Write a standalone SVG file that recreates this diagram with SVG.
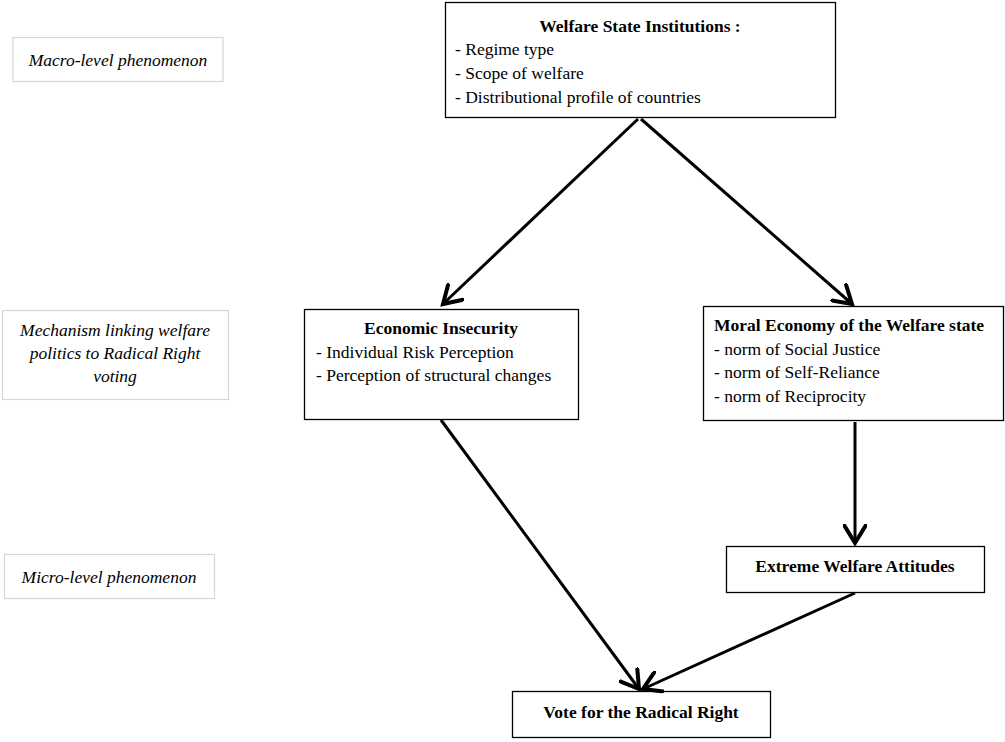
<svg xmlns="http://www.w3.org/2000/svg" width="1005" height="742" viewBox="0 0 1005 742">
<style>
.box{fill:#fff;stroke:#000;stroke-width:1.3}
.lab{fill:#fff;stroke:#d6d6d6;stroke-width:1.2}
.t{font-family:"Liberation Serif","Times New Roman",serif;font-size:17.5px;fill:#000}
.b{font-weight:bold}
.i{font-style:italic}
.c{text-anchor:middle}
.conn{fill:none;stroke:#000;stroke-width:3}
</style>
<defs>
<marker id="ah" markerUnits="userSpaceOnUse" markerWidth="24" markerHeight="24" refX="14" refY="9" orient="auto" viewBox="0 0 18 18">
<path d="M1,1 L14,9 L1,17" fill="none" stroke="#000" stroke-width="3" stroke-linecap="round" stroke-linejoin="miter"/>
</marker>
</defs>
<rect width="1005" height="742" fill="#fff"/>
<g id="macro-label">
<rect class="lab" x="13" y="37.5" width="210" height="44"/>
<text class="t i c" x="118" y="66">Macro-level phenomenon</text>
</g>
<g id="mechanism-label">
<rect class="lab" x="2.5" y="310.5" width="226" height="89"/>
<text class="t i c" x="115" y="336">Mechanism linking welfare</text>
<text class="t i c" x="115" y="359">politics to Radical Right</text>
<text class="t i c" x="115" y="382">voting</text>
</g>
<g id="micro-label">
<rect class="lab" x="4.5" y="554.5" width="210" height="44"/>
<text class="t i c" x="109" y="583">Micro-level phenomenon</text>
</g>
<g id="welfare-institutions">
<rect class="box" x="445.5" y="2.5" width="390" height="115"/>
<text class="t b c" x="640" y="32">Welfare State Institutions :</text>
<text class="t" x="455" y="55">- Regime type</text>
<text class="t" x="455" y="79">- Scope of welfare</text>
<text class="t" x="455" y="103">- Distributional profile of countries</text>
</g>
<g id="economic-insecurity">
<rect class="box" x="304.5" y="309.5" width="274" height="110"/>
<text class="t b c" x="441" y="334">Economic Insecurity</text>
<text class="t" x="316" y="358">- Individual Risk Perception</text>
<text class="t" x="316" y="381">- Perception of structural changes</text>
</g>
<g id="moral-economy">
<rect class="box" x="703.5" y="306.5" width="300" height="114"/>
<text class="t b" x="714" y="331">Moral Economy of the Welfare state</text>
<text class="t" x="714" y="355">- norm of Social Justice</text>
<text class="t" x="714" y="378">- norm of Self-Reliance</text>
<text class="t" x="714" y="402">- norm of Reciprocity</text>
</g>
<g id="extreme-attitudes">
<rect class="box" x="726.5" y="546.5" width="258" height="46"/>
<text class="t b c" x="855" y="572">Extreme Welfare Attitudes</text>
</g>
<g id="vote-radical-right">
<rect class="box" x="512.5" y="691.5" width="258" height="46"/>
<text class="t b c" x="641" y="718">Vote for the Radical Right</text>
</g>
<g id="connectors">
<line class="conn" x1="638" y1="119" x2="443" y2="304" marker-end="url(#ah)"/>
<line class="conn" x1="641" y1="119" x2="852" y2="304" marker-end="url(#ah)"/>
<line class="conn" x1="441" y1="420" x2="639" y2="689" marker-end="url(#ah)"/>
<line class="conn" x1="855" y1="422" x2="855" y2="543" marker-end="url(#ah)"/>
<line class="conn" x1="855" y1="593" x2="643" y2="689" marker-end="url(#ah)"/>
</g>
</svg>
